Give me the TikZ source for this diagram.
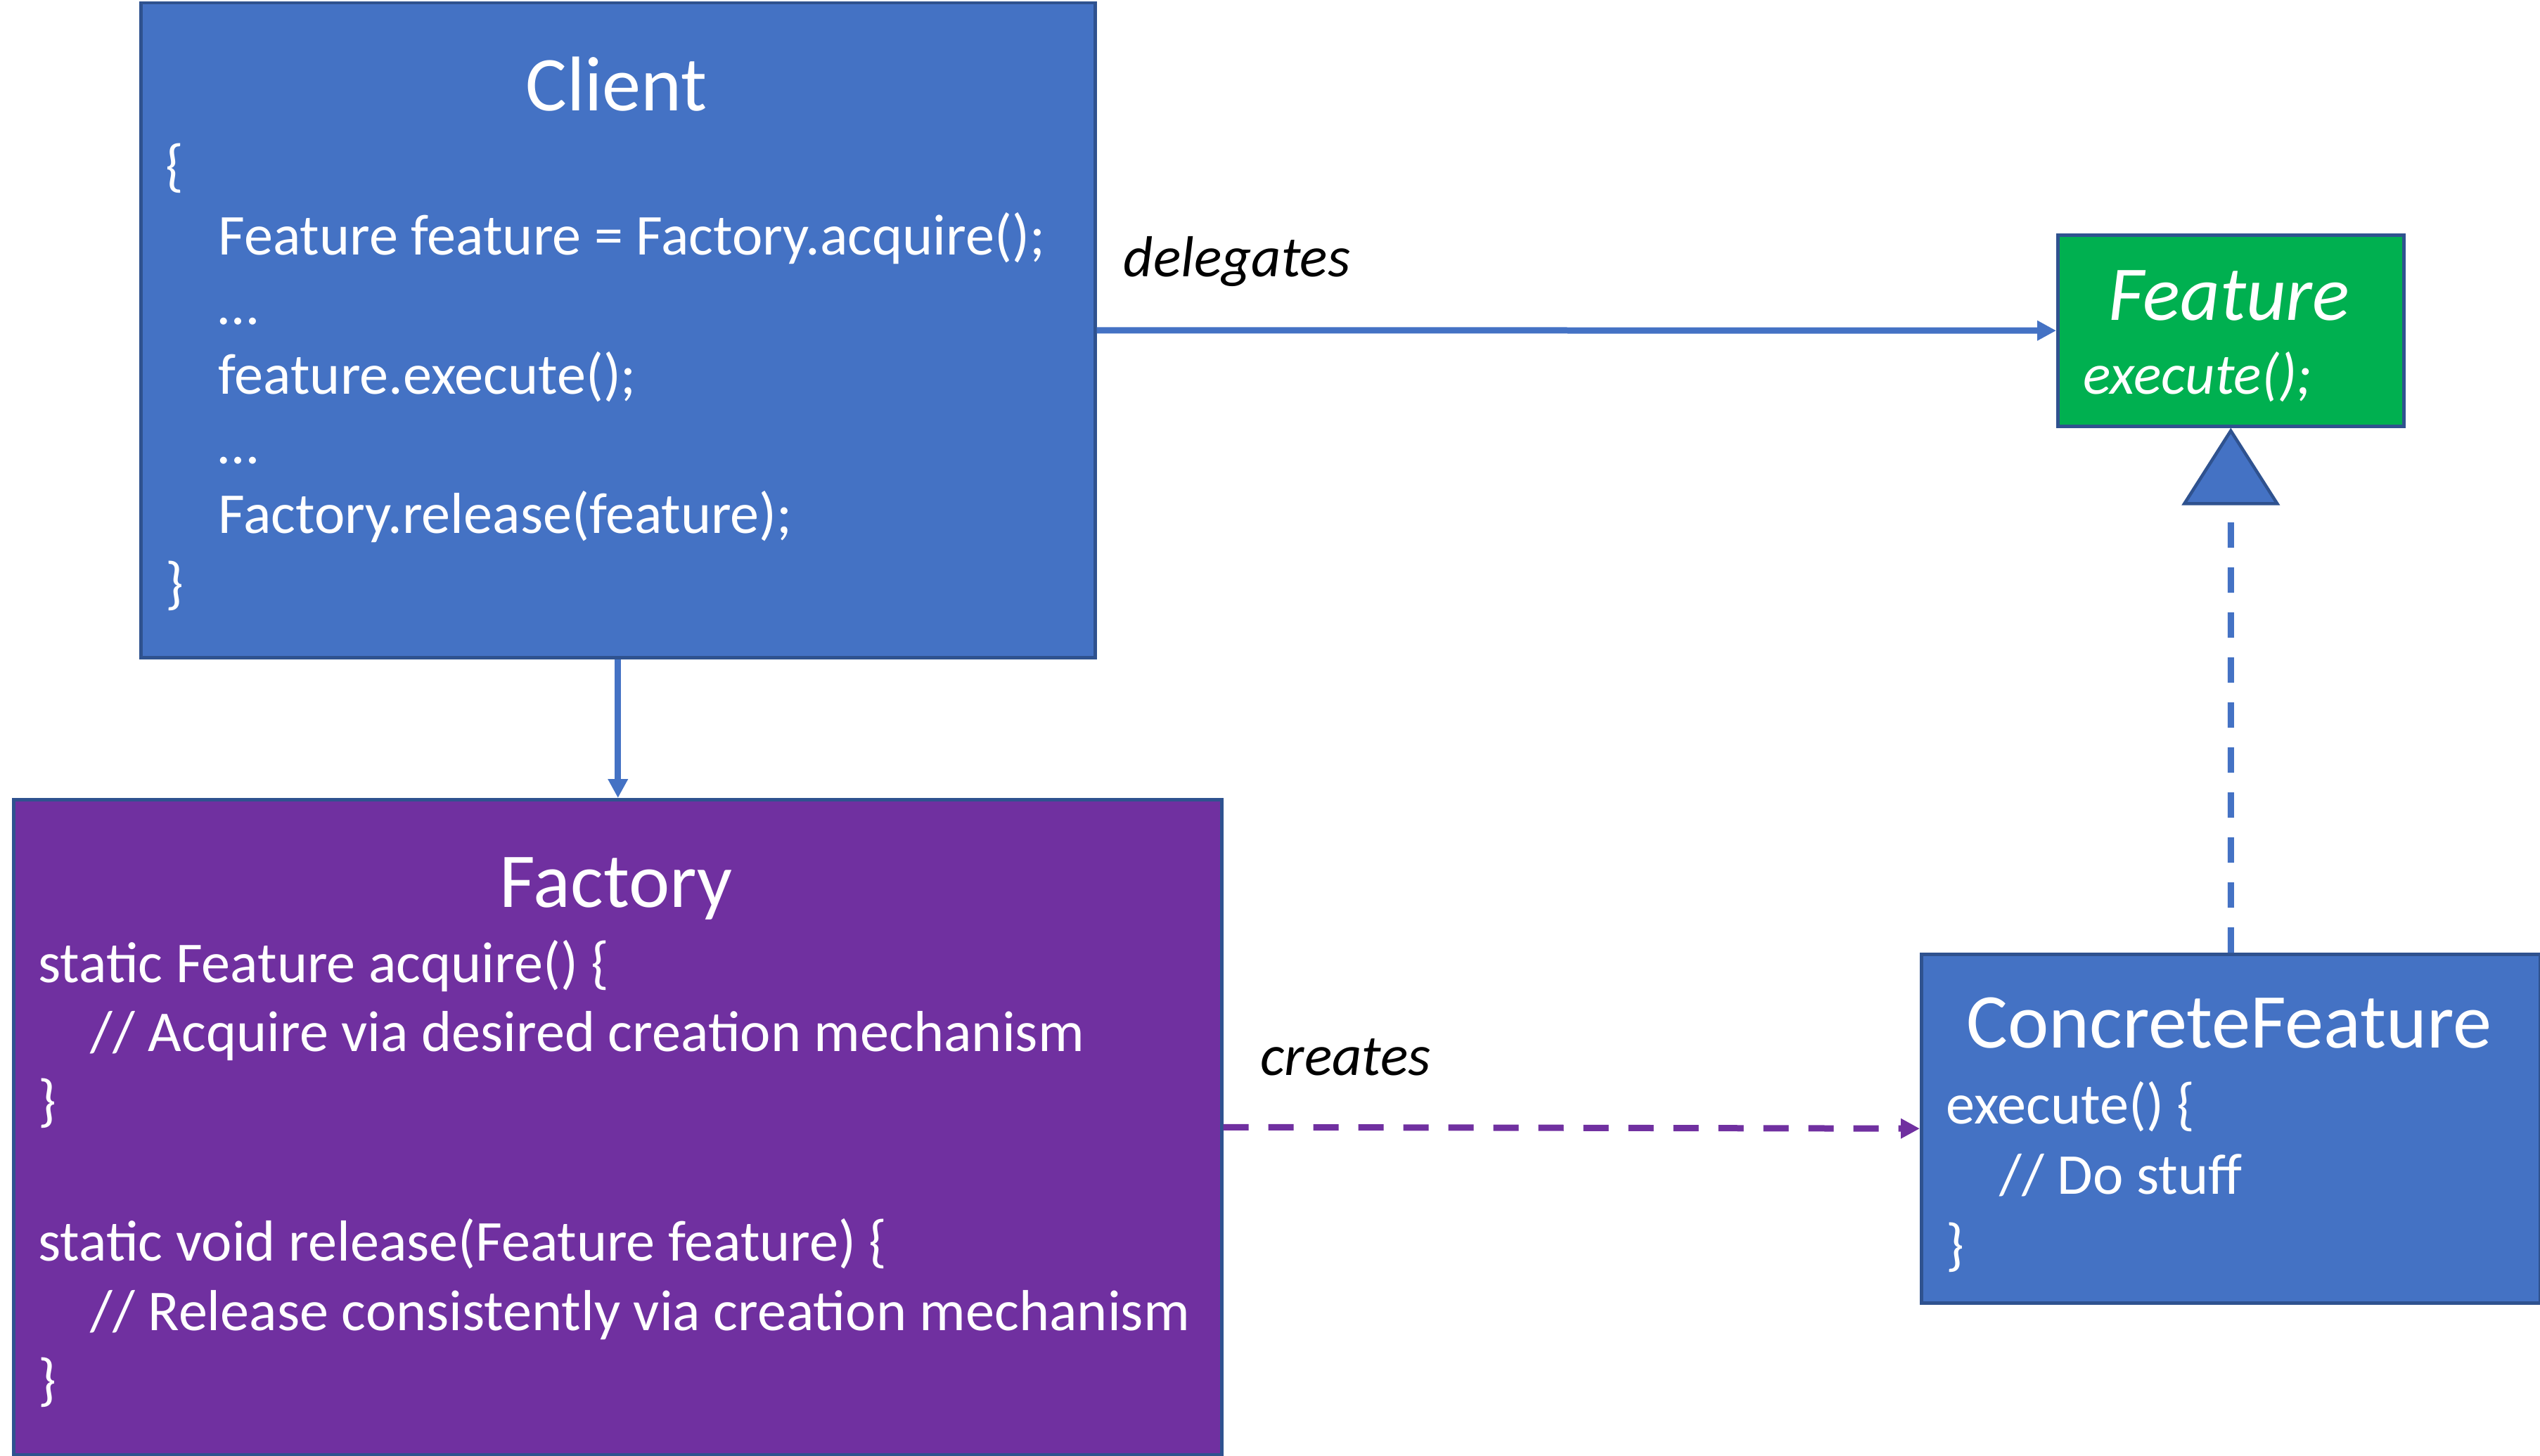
\documentclass[tikz,border=0pt]{standalone}
\usepackage{fontspec}
\setmainfont{Carlito}
\usetikzlibrary{arrows.meta}
\definecolor{clientblue}{HTML}{4472C4}
\definecolor{boxline}{HTML}{2F528F}
\definecolor{factorypurple}{HTML}{7030A0}
\definecolor{featuregreen}{HTML}{00B050}
\tikzset{
  box/.style={draw=boxline, line width=0.45mm, inner sep=0pt, anchor=north west},
  title/.style={text=white, font=\fontsize{31.4}{36}\selectfont, anchor=base, inner sep=0pt},
  code/.style={text=white, font=\fontsize{23.4}{28}\selectfont, anchor=base west, inner sep=0pt},
  lbl/.style={font=\itshape\fontsize{23.4}{28}\selectfont, anchor=base west, inner sep=0pt},
  link/.style={line width=0.09cm, draw=clientblue, -{Triangle[length=0.27cm, width=0.27cm, fill=clientblue, color=clientblue]}},
  dashlink/.style={line width=0.09cm, dash pattern=on 0.36cm off 0.28cm},
}
\begin{document}
\begin{tikzpicture}
    \useasboundingbox (0,0) rectangle (36.12,-20.70);
    \node[box, fill=clientblue, minimum width=13.57cm, minimum height=9.31cm] (client) at (1.98,-0.02) {};
    \node[box, fill=factorypurple, minimum width=17.18cm, minimum height=9.32cm] (factory) at (0.17,-11.35) {};
    \node[box, fill=featuregreen, minimum width=4.92cm, minimum height=2.72cm] (feature) at (29.24,-3.32) {};
    \node[box, fill=clientblue, minimum width=8.80cm, minimum height=4.96cm] (concrete) at (27.30,-13.55) {};

    \node[title] (clienttitle) at (8.765,-1.58) {Client};
    \node[code] (cl1) at (2.35,-2.63) {\{};
    \node[code] (cl2) at (3.10,-3.62) {Feature feature = Factory.acquire();};
    \node[code] (cl3) at (3.10,-4.61) {…};
    \node[code] (cl4) at (3.10,-5.60) {feature.execute();};
    \node[code] (cl5) at (3.10,-6.59) {…};
    \node[code] (cl6) at (3.10,-7.58) {Factory.release(feature);};
    \node[code] (cl7) at (2.35,-8.57) {\}};

    \node[title] (factorytitle) at (8.76,-12.90) {Factory};
    \node[code] (fa1) at (0.54,-13.97) {static Feature acquire() \{};
    \node[code] (fa2) at (1.28,-14.95) {// Acquire via desired creation mechanism};
    \node[code] (fa3) at (0.54,-15.93) {\}};
    \node[code] (fa4) at (0.54,-17.93) {static void release(Feature feature) \{};
    \node[code] (fa5) at (1.28,-18.92) {// Release consistently via creation mechanism};
    \node[code] (fa6) at (0.54,-19.90) {\}};

    \node[title, font=\itshape\fontsize{31.4}{36}\selectfont] (featuretitle) at (31.70,-4.55) {Feature};
    \node[code, font=\itshape\fontsize{23.4}{28}\selectfont] (fe1) at (29.62,-5.60) {execute();};

    \node[title] (concretetitle) at (31.70,-14.90) {ConcreteFeature};
    \node[code] (co1) at (27.67,-15.98) {execute() \{};
    \node[code] (co2) at (28.43,-16.98) {// Do stuff};
    \node[code] (co3) at (27.67,-17.98) {\}};

    \draw[link] (client.east) -- (feature.west);
    \draw[link] (client.south) -- (client.south |- factory.north);
    \draw[link, dashlink, draw=factorypurple, -{Triangle[length=0.27cm, width=0.27cm, fill=factorypurple, color=factorypurple]}] (factory.east) -- (concrete.west);
    \draw[dashlink, draw=clientblue, -{Triangle[length=1.10cm, width=1.39cm, fill=clientblue, color=boxline, line width=0.045cm]}] (concrete.north) -- (feature.south);

    \node[lbl] (delegates) at (15.97,-3.93) {delegates};
    \node[lbl] (creates) at (17.92,-15.29) {creates};
\end{tikzpicture}
\end{document}
